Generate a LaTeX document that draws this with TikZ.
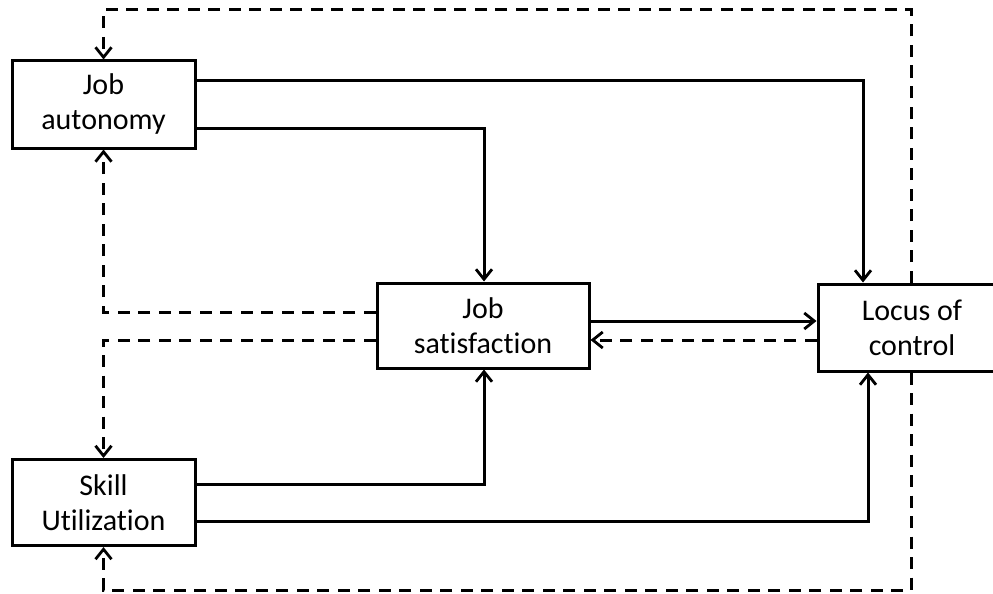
\documentclass[tikz,border=0pt]{standalone}
\usepackage{fontspec}
\setmainfont{Carlito}[Ligatures=NoCommon]
\usetikzlibrary{arrows.meta}
\begin{document}
\begin{tikzpicture}[x=1pt,y=-1pt,
  box/.style={draw,line width=3pt,rectangle,align=center,inner sep=0pt,
    font=\fontsize{30}{35}\selectfont,fill=white},
  conn/.style={line width=3pt,-{Straight Barb[length=10pt,width=16pt,line width=2.8pt]}},
  dconn/.style={conn,dash pattern=on 12pt off 8.5pt}]
\useasboundingbox (0,0) rectangle (993,594);
\clip (0,0) rectangle (993,594);
\node[box,minimum width=183pt,minimum height=87pt] (ja) at (103.5,104.5) {Job\\autonomy};
\node[box,minimum width=183pt,minimum height=86pt] (su) at (103.5,502.5) {Skill\\Utilization};
\node[box,minimum width=212pt,minimum height=85pt] (js) at (483,325.5) {Job\\satisfaction};
\node[box,minimum width=188pt,minimum height=87pt] (lc) at (912,327.5) {Locus of\\control};
\draw[conn] (ja.east |- 0,80) -| (lc.north -| 863,0);
\draw[conn] (ja.east |- 0,128) -| (js.north -| 484,0);
\draw[conn] (su.east |- 0,484) -| (js.south -| 484,0);
\draw[conn] (su.east |- 0,521) -| (lc.south -| 868,0);
\draw[conn] (js.east |- 0,321) -- (lc.west |- 0,321);
\draw[dconn] (lc.west |- 0,340) -- (js.east |- 0,340);
\draw[dconn] (js.west |- 0,312) -| (ja.south);
\draw[dconn] (js.west |- 0,340) -| (su.north);
\draw[dconn] (lc.north -| 911,0) -- (911,10) -| (ja.north);
\draw[dconn] (lc.south -| 911,0) -- (911,590) -| (su.south);
\end{tikzpicture}
\end{document}
